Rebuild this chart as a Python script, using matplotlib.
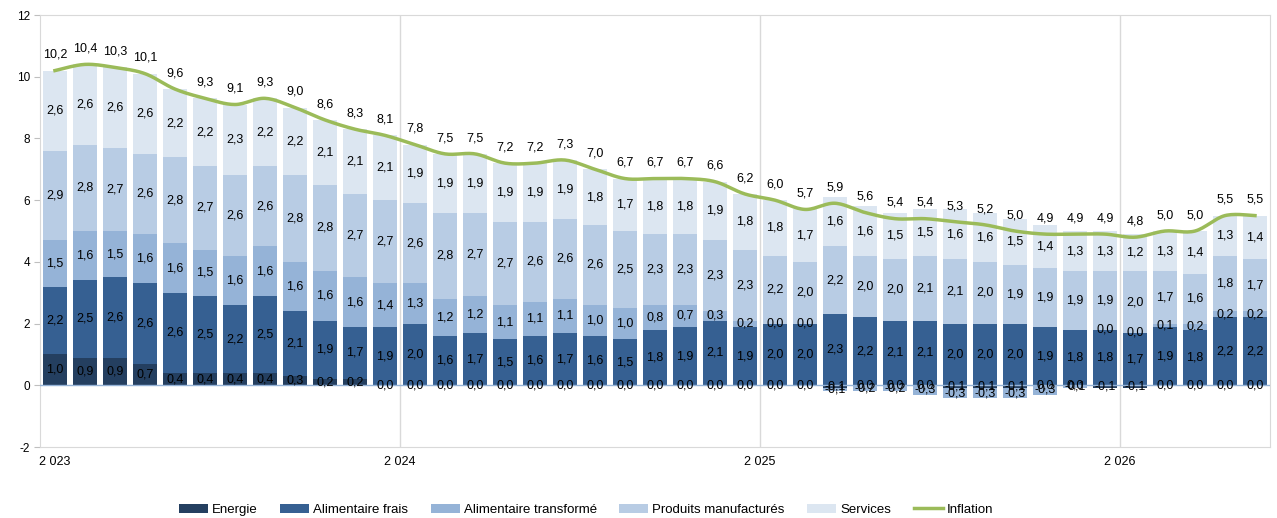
import matplotlib.pyplot as plt
import numpy as np

plt.rcParams['font.family'] = ['Liberation Sans', 'DejaVu Sans']
plt.rcParams['axes.unicode_minus'] = False

months = np.arange(41)
year_labels = ["2 023", "2 024", "2 025", "2 026"]

energie = [1.0, 0.9, 0.9, 0.7, 0.4, 0.4, 0.4, 0.4, 0.3, 0.2, 0.2, 0.0,
           0.0, 0.0, 0.0, 0.0, 0.0, 0.0, 0.0, 0.0, 0.0, 0.0, 0.0, 0.0,
           0.0, 0.0, -0.1, 0.0, 0.0, 0.0, -0.1, -0.1, -0.1, 0.0, 0.0, -0.1,
           -0.1, 0.0, 0.0, 0.0, 0.0]
alim_frais = [2.2, 2.5, 2.6, 2.6, 2.6, 2.5, 2.2, 2.5, 2.1, 1.9, 1.7, 1.9,
              2.0, 1.6, 1.7, 1.5, 1.6, 1.7, 1.6, 1.5, 1.8, 1.9, 2.1, 1.9,
              2.0, 2.0, 2.3, 2.2, 2.1, 2.1, 2.0, 2.0, 2.0, 1.9, 1.8, 1.8,
              1.7, 1.9, 1.8, 2.2, 2.2]
alim_transf = [1.5, 1.6, 1.5, 1.6, 1.6, 1.5, 1.6, 1.6, 1.6, 1.6, 1.6, 1.4,
               1.3, 1.2, 1.2, 1.1, 1.1, 1.1, 1.0, 1.0, 0.8, 0.7, 0.3, 0.2,
               0.0, 0.0, -0.1, -0.2, -0.2, -0.3, -0.3, -0.3, -0.3, -0.3, -0.1, 0.0,
               0.0, 0.1, 0.2, 0.2, 0.2]
manufactures = [2.9, 2.8, 2.7, 2.6, 2.8, 2.7, 2.6, 2.6, 2.8, 2.8, 2.7, 2.7,
                2.6, 2.8, 2.7, 2.7, 2.6, 2.6, 2.6, 2.5, 2.3, 2.3, 2.3, 2.3,
                2.2, 2.0, 2.2, 2.0, 2.0, 2.1, 2.1, 2.0, 1.9, 1.9, 1.9, 1.9,
                2.0, 1.7, 1.6, 1.8, 1.7]
services = [2.6, 2.6, 2.6, 2.6, 2.2, 2.2, 2.3, 2.2, 2.2, 2.1, 2.1, 2.1,
            1.9, 1.9, 1.9, 1.9, 1.9, 1.9, 1.8, 1.7, 1.8, 1.8, 1.9, 1.8,
            1.8, 1.7, 1.6, 1.6, 1.5, 1.5, 1.6, 1.6, 1.5, 1.4, 1.3, 1.3,
            1.2, 1.3, 1.4, 1.3, 1.4]
inflation = [10.2, 10.4, 10.3, 10.1, 9.6, 9.3, 9.1, 9.3, 9.0, 8.6, 8.3, 8.1,
             7.8, 7.5, 7.5, 7.2, 7.2, 7.3, 7.0, 6.7, 6.7, 6.7, 6.6, 6.2,
             6.0, 5.7, 5.9, 5.6, 5.4, 5.4, 5.3, 5.2, 5.0, 4.9, 4.9, 4.9,
             4.8, 5.0, 5.0, 5.5, 5.5]

series = [
    ("Energie", energie, "#243F60"),
    ("Alimentaire frais", alim_frais, "#366092"),
    ("Alimentaire transformé", alim_transf, "#95B3D7"),
    ("Produits manufacturés", manufactures, "#B8CCE4"),
    ("Services", services, "#DCE6F1"),
]


def fmt(v):
    return f"{v:.1f}".replace(".", ",")


def smooth(x, y, n=16):
    # Catmull-Rom curve through the points, like Excel's smoothed line
    x = np.asarray(x, float)
    y = np.asarray(y, float)
    px = np.concatenate([[x[0]], x, [x[-1]]])
    py = np.concatenate([[y[0]], y, [y[-1]]])
    xs, ys = [], []
    t = np.linspace(0, 1, n, endpoint=False)
    for i in range(1, len(px) - 2):
        for p, out in ((px, xs), (py, ys)):
            p0, p1, p2, p3 = p[i - 1], p[i], p[i + 1], p[i + 2]
            out.extend(0.5 * (2 * p1 + (-p0 + p2) * t
                              + (2 * p0 - 5 * p1 + 4 * p2 - p3) * t ** 2
                              + (-p0 + 3 * p1 - 3 * p2 + p3) * t ** 3))
    xs.append(x[-1])
    ys.append(y[-1])
    return np.array(xs), np.array(ys)


fig = plt.figure(figsize=(12.77, 5.18), dpi=100)
ax = fig.add_axes([0.0313, 0.137, 0.9632, 0.834])

pos_base = np.zeros(len(months))
neg_base = np.zeros(len(months))
for name, vals, color in series:
    v = np.array(vals)
    bottom = np.where(v >= 0, pos_base, neg_base)
    ax.bar(months, v, bottom=bottom, width=0.78, color=color, label=name, zorder=2)
    for x, b, h in zip(months, bottom, v):
        ax.text(x, b + h / 2, fmt(h), ha="center", va="center", fontsize=9, zorder=5)
    pos_base += np.where(v >= 0, v, 0)
    neg_base += np.where(v < 0, v, 0)

sx, sy = smooth(months, inflation)
ax.plot(sx, sy, color="#9BBB59", lw=2.5, label="Inflation", zorder=4)
for x, y in zip(months, inflation):
    ax.annotate(fmt(y), (x, y), xytext=(0, 7), textcoords="offset points",
                ha="center", va="bottom", fontsize=9)

ax.axhline(0, color="#95B3D7", lw=1, zorder=3)
for b in [11.5, 23.5, 35.5]:
    ax.axvline(b, color="#D9D9D9", lw=1, zorder=0)

ax.set_xlim(-0.5, 40.5)
ax.set_ylim(-2, 12)
ax.set_yticks(np.arange(-2, 13, 2))
ax.set_xticks([])
ax.tick_params(axis="y", labelsize=8.5, length=4, color="#BFBFBF", pad=3)
for s in ax.spines.values():
    s.set_color("#D9D9D9")

for x, lab in zip([0, 11.5, 23.5, 35.5], year_labels):
    ax.text(x, -2.5, lab, ha="center", va="center", fontsize=9, clip_on=False)

handles, labels = ax.get_legend_handles_labels()
order = [1, 2, 3, 4, 5, 0]
fig.legend([handles[i] for i in order], [labels[i] for i in order],
           loc="center", bbox_to_anchor=(0.459, 0.016), ncol=6, frameon=False,
           fontsize=9.5, handlelength=2.2, handleheight=0.7, columnspacing=1.7,
           handletextpad=0.3)

fig.savefig("out.png", dpi=100)
